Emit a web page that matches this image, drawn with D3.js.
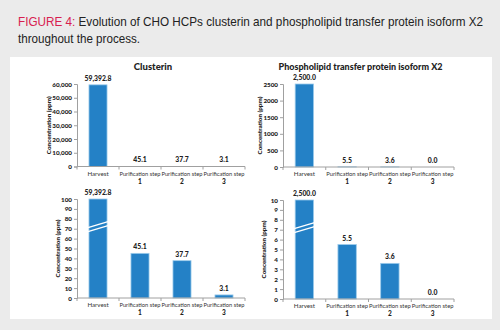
<!DOCTYPE html>
<html>
<head>
<meta charset="utf-8">
<script src="https://cdn.jsdelivr.net/npm/d3@7"></script>
<style>
  html, body { margin: 0; padding: 0; background: #ebebeb; }
  svg { display: block; }
</style>
</head>
<body>
<svg id="chart" width="500" height="330"></svg>
<script>
// ---- data ----
const categories = ["Harvest", "Purification step 1", "Purification step 2", "Purification step 3"];
const clusterinValues = [59392.8, 45.1, 37.7, 3.1];
const pltpValues = [2500.0, 5.5, 3.6, 0.0];
const clusterinLabels = ["59,392.8", "45.1", "37.7", "3.1"];
const pltpLabels = ["2,500.0", "5.5", "3.6", "0.0"];
const clusterinTicksFull = [0, 10000, 20000, 30000, 40000, 50000, 60000];
const pltpTicksFull = [0, 500, 1000, 1500, 2000, 2500];
const clusterinTicksZoom = [0, 10, 20, 30, 40, 50, 60, 70, 80, 90, 100];
const pltpTicksZoom = [0, 1, 2, 3, 4, 5, 6, 7, 8, 9, 10];
const chartTitles = ["Clusterin", "Phospholipid transfer protein isoform X2"];
const yAxisTitle = "Concentration (ppm)";

const svg = d3.select("#chart");
const BLUE = "#2481c6";
const AXIS = "#a0a0a0";
const CF = "Lato, 'Open Sans', sans-serif";
const HF = "'Liberation Sans', Arial, sans-serif";

// header
svg.append("rect").attr("x", 0).attr("y", 0).attr("width", 500).attr("height", 330).attr("fill", "#ebebeb");
svg.append("rect").attr("x", 10).attr("y", 57).attr("width", 482).attr("height", 262).attr("fill", "#ffffff");
const t1 = svg.append("text").attr("x", 18).attr("y", 26)
  .attr("font-family", HF).attr("font-size", 11.9).attr("fill", "#222")
  .attr("textLength", 465).attr("lengthAdjust", "spacingAndGlyphs");
t1.append("tspan").attr("fill", "#d8204f").text("FIGURE 4:");
t1.append("tspan").text(" Evolution of CHO HCPs clusterin and phospholipid transfer protein isoform X2");
svg.append("text").attr("x", 18).attr("y", 43)
  .attr("font-family", HF).attr("font-size", 11.9).attr("fill", "#222")
  .attr("textLength", 122).attr("lengthAdjust", "spacingAndGlyphs")
  .text("throughout the process.");

function panel(cfg) {
  const {x0, x1, yTop, yBot, values, labels, ticks, title, yLabelX, fmt, brk} = cfg;
  const g = svg.append("g");
  const maxV = ticks[ticks.length - 1];
  const y = d3.scaleLinear().domain([0, maxV]).range([yBot, yTop]);
  const slot = d3.scaleBand().domain(categories).range([x0, x1]).padding(0);
  const bw = slot.bandwidth() * 0.43;

  // title
  if (title) {
    g.append("text").attr("x", (x0 + x1) / 2 - 8).attr("y", 70).attr("text-anchor", "middle")
      .attr("font-family", CF).attr("font-weight", 900).attr("font-size", title.length > 20 ? 9 : 9.5)
      .attr("fill", "#222").text(title);
  }

  // y axis
  const yAx = d3.axisLeft(y).tickValues(ticks).tickSize(3).tickFormat(fmt);
  const ya = g.append("g").attr("transform", `translate(${x0},0)`).call(yAx);
  ya.select(".domain").attr("stroke", AXIS);
  ya.selectAll(".tick line").attr("stroke", AXIS);
  ya.selectAll(".tick text").attr("font-family", CF).attr("font-weight", 900)
    .attr("font-size", 6.3).attr("fill", "#222").attr("x", -5);

  // y title
  g.append("text").attr("transform", `translate(${yLabelX},${(yTop + yBot) / 2}) rotate(-90)`)
    .attr("text-anchor", "middle").attr("font-family", CF).attr("font-weight", 900)
    .attr("font-size", 6.3).attr("fill", "#222").text(yAxisTitle);

  // bars
  const data = categories.map((c, i) => ({c, v: values[i], lab: labels[i]}));
  g.selectAll("rect.bar").data(data).join("rect").attr("class", "bar")
    .attr("x", d => slot(d.c) + (slot.bandwidth() - bw) / 2)
    .attr("width", bw)
    .attr("y", d => y(Math.min(d.v, maxV)))
    .attr("height", d => yBot - y(Math.min(d.v, maxV)))
    .attr("fill", BLUE).attr("stroke", "#9ccbeb").attr("stroke-width", 0.8);

  // break marks
  if (brk) {
    data.filter(d => d.v > maxV).forEach(d => {
      const bx = slot(d.c) + (slot.bandwidth() - bw) / 2;
      [0, 4].forEach(off => {
        g.append("line").attr("x1", bx - 1).attr("x2", bx + bw + 1)
          .attr("y1", y(brk) + off + 2).attr("y2", y(brk) + off - 4)
          .attr("stroke", "#fff").attr("stroke-width", 1.3);
      });
    });
  }

  // value labels
  g.selectAll("text.val").data(data).join("text").attr("class", "val")
    .attr("x", d => slot(d.c) + slot.bandwidth() / 2)
    .attr("y", d => y(Math.min(d.v, maxV)) - 4)
    .attr("text-anchor", "middle").attr("font-family", CF).attr("font-weight", 900)
    .attr("font-size", 6.8).attr("fill", "#222").text(d => d.lab);

  // x axis
  g.append("line").attr("x1", x0).attr("x2", x1).attr("y1", yBot).attr("y2", yBot).attr("stroke", AXIS);
  const bounds = categories.map(c => slot(c)).concat([x1]);
  g.selectAll("line.xt").data(bounds).join("line").attr("class", "xt")
    .attr("x1", d => d).attr("x2", d => d).attr("y1", yBot).attr("y2", yBot + 3).attr("stroke", AXIS);

  // category labels
  data.forEach(d => {
    const cx = slot(d.c) + slot.bandwidth() / 2;
    const m = d.c.match(/^(.*) (\d)$/);
    if (m) {
      g.append("text").attr("x", cx).attr("y", yBot + 9).attr("text-anchor", "middle")
        .attr("font-family", CF).attr("font-size", 6.2).attr("fill", "#333")
        .attr("textLength", slot.bandwidth() - 1).attr("lengthAdjust", "spacingAndGlyphs").text(m[1]);
      g.append("text").attr("x", cx).attr("y", yBot + 17).attr("text-anchor", "middle")
        .attr("font-family", CF).attr("font-weight", 900).attr("font-size", 6.5).attr("fill", "#222").text(m[2]);
    } else {
      g.append("text").attr("x", cx).attr("y", yBot + 9).attr("text-anchor", "middle")
        .attr("font-family", CF).attr("font-size", 6.2).attr("fill", "#333").text(d.c);
    }
  });
}

const fmtComma = d3.format(",");
panel({x0: 77, x1: 245, yTop: 84, yBot: 166.5, values: clusterinValues, labels: clusterinLabels,
  ticks: clusterinTicksFull, title: chartTitles[0], yLabelX: 51, fmt: fmtComma});
panel({x0: 283, x1: 454, yTop: 84, yBot: 167, values: pltpValues, labels: pltpLabels,
  ticks: pltpTicksFull, title: chartTitles[1], yLabelX: 262, fmt: d3.format("d")});
panel({x0: 77, x1: 245, yTop: 199, yBot: 298, values: clusterinValues, labels: clusterinLabels,
  ticks: clusterinTicksZoom, title: null, yLabelX: 60, fmt: d3.format("d"), brk: 73});
panel({x0: 283, x1: 454, yTop: 200, yBot: 299, values: pltpValues, labels: pltpLabels,
  ticks: pltpTicksZoom, title: null, yLabelX: 266, fmt: d3.format("d"), brk: 7.3});
</script>
</body>
</html>
